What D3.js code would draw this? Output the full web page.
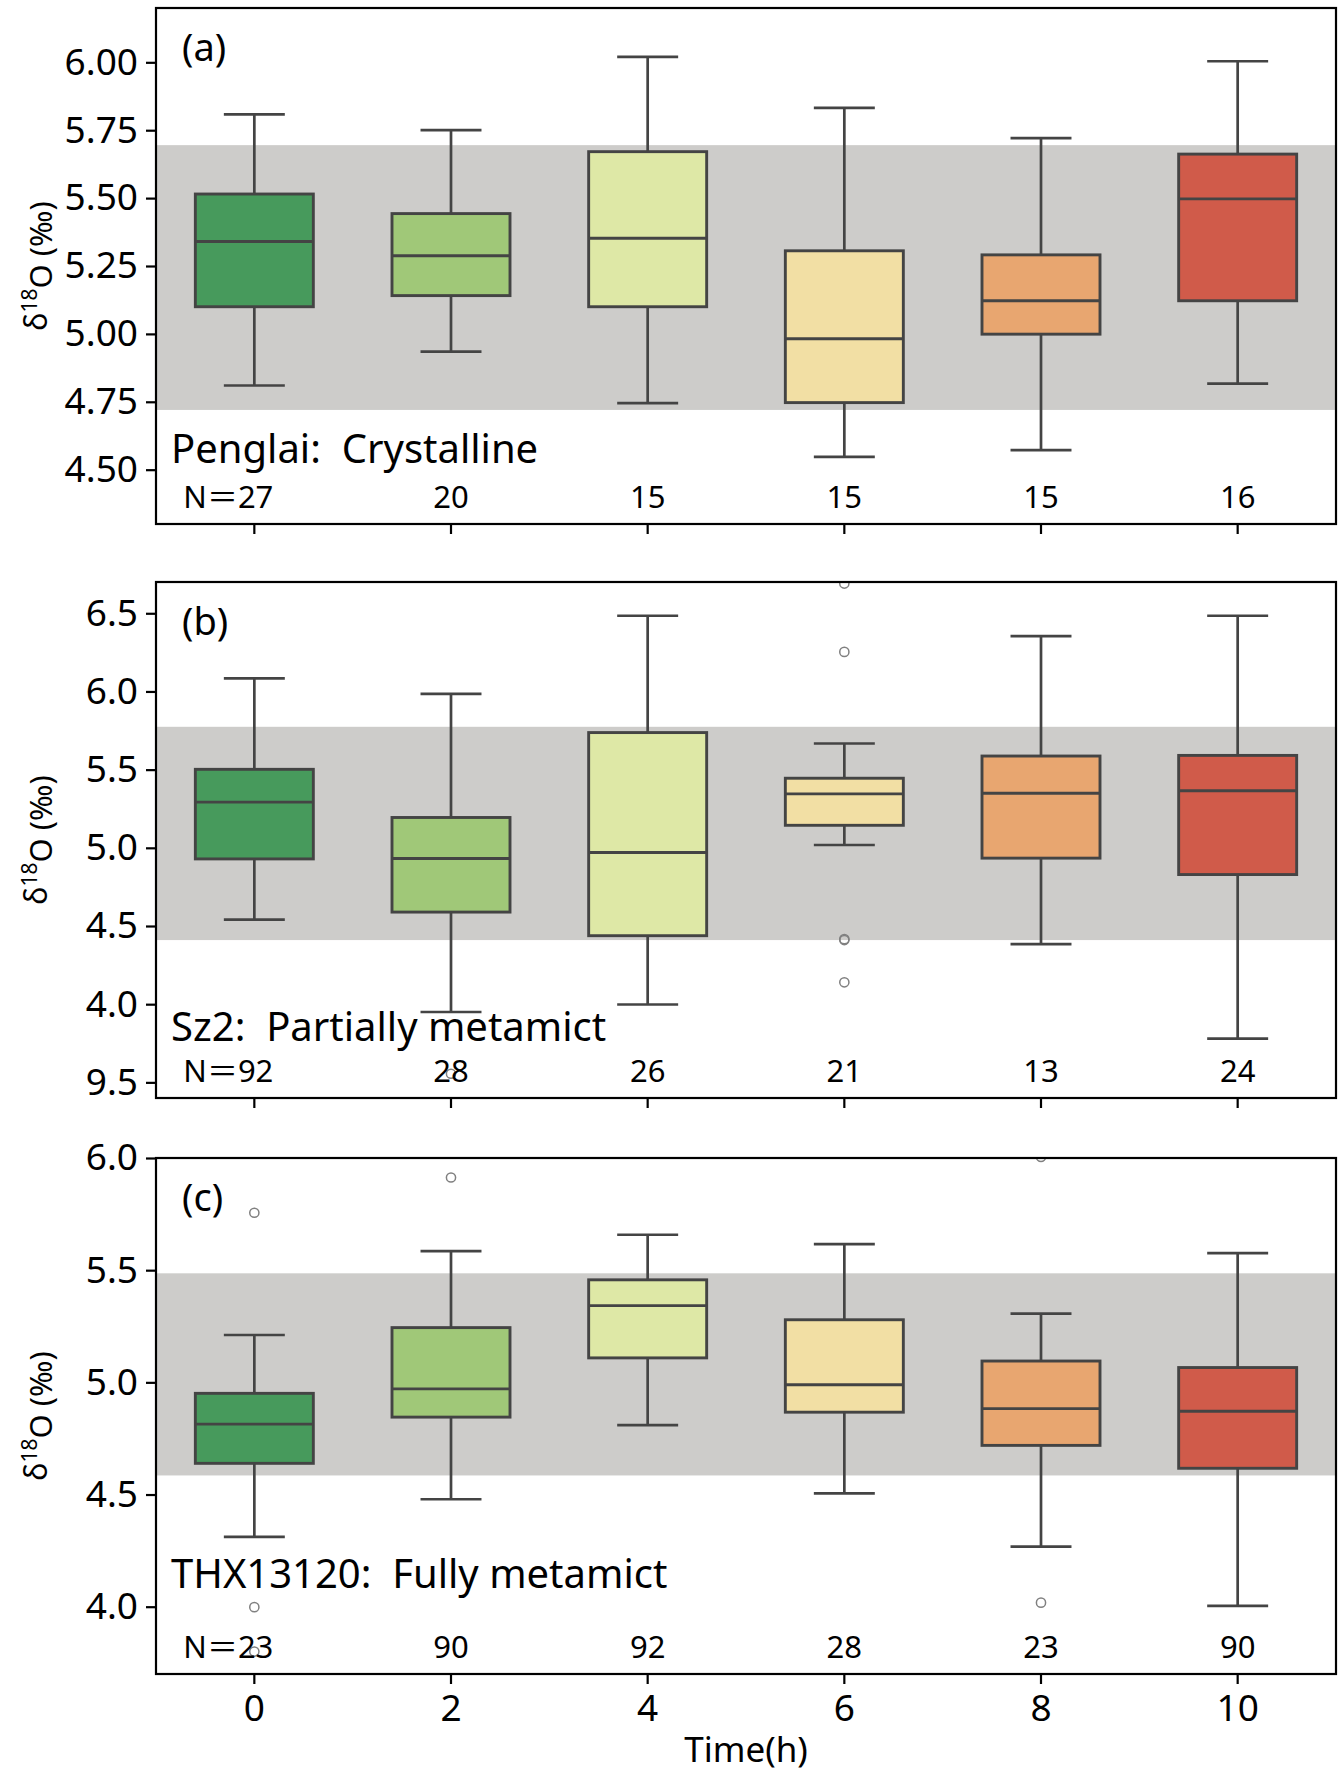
<!DOCTYPE html>
<html>
<head>
<meta charset="utf-8">
<script src="https://cdn.jsdelivr.net/npm/d3@7"></script>
<style>
  body { margin: 0; background: #fff; }
  text { font-family: "Noto Sans", "Noto Sans CJK SC", sans-serif; white-space: pre; }
</style>
</head>
<body>
<div id="chart"></div>
<script>
// Categories and box colours
const times = [0, 2, 4, 6, 8, 10];
const boxColors = ["#479a5c", "#a0c878", "#dee8a6", "#f2dfa4", "#e8a670", "#d05b4a"];

// (a) Penglai
const aWhisLo = [4.81, 4.935, 4.745, 4.547, 4.572, 4.817];
const aQ1 = [5.10, 5.141, 5.10, 4.747, 4.999, 5.122];
const aMed = [5.34, 5.288, 5.352, 4.982, 5.122, 5.497];
const aQ3 = [5.515, 5.443, 5.671, 5.306, 5.291, 5.662];
const aWhisHi = [5.808, 5.75, 6.02, 5.832, 5.721, 6.004];
const aOutliers = [[], [], [], [], [], []];
const aN = [27, 20, 15, 15, 15, 16];
const aBand = [4.72, 5.695];
const aTicks = [4.5, 4.75, 5.0, 5.25, 5.5, 5.75, 6.0];
const aTickLabels = ["4.50", "4.75", "5.00", "5.25", "5.50", "5.75", "6.00"];

// (b) Sz2
const bWhisLo = [4.541, 3.95, 3.998, 5.018, 4.384, 3.78];
const bQ1 = [4.929, 4.589, 4.438, 5.144, 4.934, 4.829];
const bMed = [5.292, 4.932, 4.97, 5.345, 5.349, 5.365];
const bQ3 = [5.502, 5.194, 5.737, 5.445, 5.587, 5.591];
const bWhisHi = [6.084, 5.984, 6.484, 5.667, 6.354, 6.484];
const bOutliers = [[], [3.555], [], [6.69, 6.253, 4.416, 4.41, 4.14], [], []];
const bN = [92, 28, 26, 21, 13, 24];
const bBand = [4.41, 5.774];
const bTicks = [3.5, 4.0, 4.5, 5.0, 5.5, 6.0, 6.5];
const bTickLabels = ["9.5", "4.0", "4.5", "5.0", "5.5", "6.0", "6.5"];

// (c) THX13120
const cWhisLo = [4.311, 4.479, 4.809, 4.505, 4.268, 4.004];
const cQ1 = [4.639, 4.845, 5.109, 4.867, 4.719, 4.617];
const cMed = [4.814, 4.971, 5.342, 4.989, 4.883, 4.871];
const cQ3 = [4.951, 5.244, 5.457, 5.279, 5.095, 5.066];
const cWhisHi = [5.211, 5.585, 5.658, 5.616, 5.306, 5.576];
const cOutliers = [[5.756, 3.998, 3.80], [5.913], [], [], [6.005, 4.018], []];
const cN = [23, 90, 92, 28, 23, 90];
const cBand = [4.585, 5.486];
const cTicks = [4.0, 4.5, 5.0, 5.5, 6.0];
const cTickLabels = ["4.0", "4.5", "5.0", "5.5", "6.0"];

const width = 1338, height = 1771;
const left = 156, right = 1336, panelH = 516;

const panels = [
    { id: "a", letter: "(a)", title: "Penglai:  Crystalline", top: 8, ylim: [4.3, 6.2],
      lo: aWhisLo, q1: aQ1, med: aMed, q3: aQ3, hi: aWhisHi, out: aOutliers, n: aN,
      band: aBand, ticks: aTicks, labels: aTickLabels, titleOff: 61 },
    { id: "b", letter: "(b)", title: "Sz2:  Partially metamict", top: 582, ylim: [3.4, 6.7],
      lo: bWhisLo, q1: bQ1, med: bMed, q3: bQ3, hi: bWhisHi, out: bOutliers, n: bN,
      band: bBand, ticks: bTicks, labels: bTickLabels, titleOff: 57 },
    { id: "c", letter: "(c)", title: "THX13120:  Fully metamict", top: 1158, ylim: [3.7, 6.0],
      lo: cWhisLo, q1: cQ1, med: cMed, q3: cQ3, hi: cWhisHi, out: cOutliers, n: cN,
      band: cBand, ticks: cTicks, labels: cTickLabels, titleOff: 86 }
];

let svg = d3.select("#chart")
    .append("svg")
    .attr("width", width)
    .attr("height", height);

let x = d3.scaleBand()
    .domain(times)
    .range([left, right])
    .padding(0);
const bw = x.bandwidth();
const boxW = bw * 0.6, capW = bw * 0.31;
const cx = t => x(t) + bw / 2;
const lineColor = "#444444";

panels.forEach((p, pi) => {
    const bottom = p.top + panelH;
    let y = d3.scaleLinear().domain(p.ylim).range([bottom, p.top]);
    let g = svg.append("g");

    g.append("clipPath").attr("id", "clip-" + p.id)
        .append("rect")
        .attr("x", left).attr("y", p.top)
        .attr("width", right - left).attr("height", panelH);

    // reference band
    g.append("rect")
        .attr("x", left)
        .attr("width", right - left)
        .attr("y", y(p.band[1]))
        .attr("height", y(p.band[0]) - y(p.band[1]))
        .attr("fill", "#cdccca");

    let boxes = g.append("g").attr("clip-path", "url(#clip-" + p.id + ")")
        .selectAll("g.box")
        .data(times)
        .enter()
        .append("g");

    // whiskers
    boxes.append("line")
        .attr("x1", d => cx(d)).attr("x2", d => cx(d))
        .attr("y1", (d, i) => y(p.hi[i])).attr("y2", (d, i) => y(p.lo[i]))
        .attr("stroke", lineColor).attr("stroke-width", 2.7);
    boxes.append("line")
        .attr("x1", d => cx(d) - capW / 2).attr("x2", d => cx(d) + capW / 2)
        .attr("y1", (d, i) => y(p.hi[i])).attr("y2", (d, i) => y(p.hi[i]))
        .attr("stroke", lineColor).attr("stroke-width", 2.7);
    boxes.append("line")
        .attr("x1", d => cx(d) - capW / 2).attr("x2", d => cx(d) + capW / 2)
        .attr("y1", (d, i) => y(p.lo[i])).attr("y2", (d, i) => y(p.lo[i]))
        .attr("stroke", lineColor).attr("stroke-width", 2.7);

    // boxes
    boxes.append("rect")
        .attr("x", d => cx(d) - boxW / 2)
        .attr("width", boxW)
        .attr("y", (d, i) => y(p.q3[i]))
        .attr("height", (d, i) => y(p.q1[i]) - y(p.q3[i]))
        .attr("fill", (d, i) => boxColors[i])
        .attr("stroke", lineColor).attr("stroke-width", 2.9);
    boxes.append("line")
        .attr("x1", d => cx(d) - boxW / 2).attr("x2", d => cx(d) + boxW / 2)
        .attr("y1", (d, i) => y(p.med[i])).attr("y2", (d, i) => y(p.med[i]))
        .attr("stroke", lineColor).attr("stroke-width", 2.9);

    // outliers
    boxes.selectAll("circle")
        .data((d, i) => p.out[i].map(v => ({ t: d, v: v })))
        .enter()
        .append("circle")
        .attr("cx", d => cx(d.t))
        .attr("cy", d => y(d.v))
        .attr("r", 4.6)
        .attr("fill", "none")
        .attr("stroke", "#808080")
        .attr("stroke-width", 1.5);

    // panel letter
    g.append("text")
        .attr("x", 182)
        .attr("y", p.top + 53)
        .style("font-size", "38px")
        .text(p.letter);

    // sample name
    g.append("text")
        .attr("x", 171)
        .attr("y", bottom - p.titleOff)
        .style("font-size", "40px")
        .text(p.title);

    // N labels
    g.selectAll("text.n")
        .data(times)
        .enter()
        .append("text")
        .attr("class", "n")
        .attr("x", (d, i) => i === 0 ? cx(d) - 71 : cx(d))
        .attr("y", bottom - 16)
        .attr("text-anchor", (d, i) => i === 0 ? "start" : "middle")
        .style("font-size", "31px")
        .text((d, i) => i === 0 ? "N＝" + p.n[i] : p.n[i]);

    // frame
    g.append("rect")
        .attr("x", left).attr("y", p.top)
        .attr("width", right - left).attr("height", panelH)
        .attr("fill", "none")
        .attr("stroke", "#000").attr("stroke-width", 2.2);

    // y axis
    let yAxis = g.append("g")
        .attr("transform", "translate(" + left + ",0)")
        .call(d3.axisLeft(y).tickValues(p.ticks).tickSize(10).tickPadding(8)
            .tickFormat((d, i) => p.labels[i]));
    yAxis.select(".domain").remove();
    yAxis.selectAll("line").attr("stroke", "#000").attr("stroke-width", 2.2);
    yAxis.selectAll("text").style("font-size", "37px").attr("fill", "#000")
        .style("font-family", "'Noto Sans', sans-serif");

    // x axis
    let xAxis = g.append("g")
        .attr("transform", "translate(0," + bottom + ")")
        .call(d3.axisBottom(x).tickSize(10).tickPadding(11)
            .tickFormat(d => pi === panels.length - 1 ? d : ""));
    xAxis.select(".domain").remove();
    xAxis.selectAll("line").attr("stroke", "#000").attr("stroke-width", 2.2);
    xAxis.selectAll("text").style("font-size", "37px").attr("fill", "#000")
        .style("font-family", "'Noto Sans', sans-serif");

    // y label
    let yl = g.append("text")
        .attr("transform", "translate(47," + (p.top + panelH / 2) + ") rotate(-90)")
        .attr("text-anchor", "middle")
        .style("font-size", "31px");
    yl.append("tspan").text("δ");
    yl.append("tspan").attr("dy", "-0.5em").style("font-size", "21px").text("18");
    yl.append("tspan").attr("dy", "0.5em").text("O (‰)");
});

// X axis label
svg.append("text")
    .attr("x", (left + right) / 2)
    .attr("y", 1762)
    .attr("text-anchor", "middle")
    .style("font-size", "35px")
    .text("Time(h)");
</script>
</body>
</html>
